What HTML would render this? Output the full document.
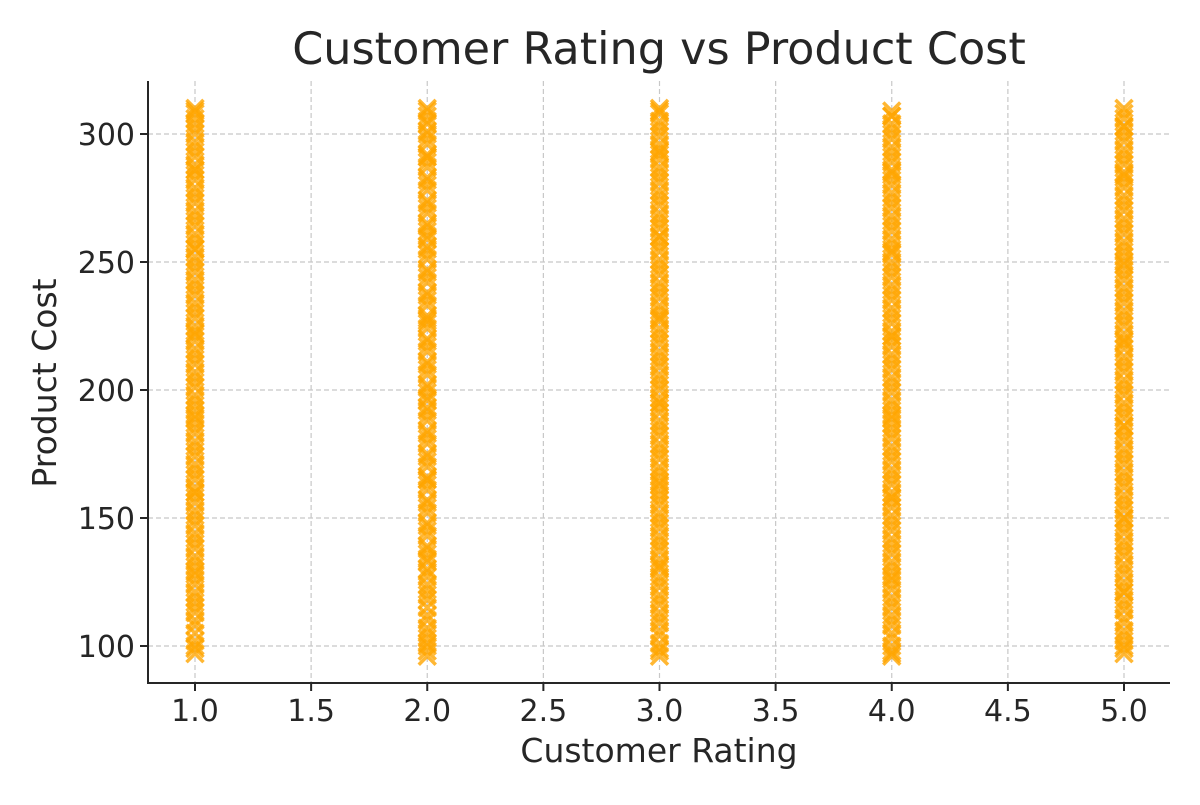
<!DOCTYPE html>
<html><head><meta charset="utf-8"><style>
body{margin:0;background:#fff;font-family:"Liberation Sans","DejaVu Sans",sans-serif}
svg text{font-family:"DejaVu Sans","Liberation Sans",sans-serif;fill:#262626}
</style></head><body>
<svg id="chart" width="1200" height="800" xmlns="http://www.w3.org/2000/svg">
<text x="659" y="64" font-size="44.5" text-anchor="middle">Customer Rating vs Product Cost</text>
<g id="grid"></g>
<g id="points"></g>
<g id="axes"></g>
<text x="659" y="762" font-size="33" text-anchor="middle">Customer Rating</text>
<text transform="translate(56,383) rotate(-90)" font-size="33" text-anchor="middle">Product Cost</text>
</svg>
<script>
const xTicks=[1.0,1.5,2.0,2.5,3.0,3.5,4.0,4.5,5.0];
const xTickLabels=["1.0","1.5","2.0","2.5","3.0","3.5","4.0","4.5","5.0"];
const yTicks=[100,150,200,250,300];
const yTickLabels=["100","150","200","250","300"];
const ratings=[1,2,3,4,5];
const cost1=[97,102,108,113,117,121,126,131,135,140,144,149,153,158,162,167,171,176,180,185,189,194,198,203,207,212,216,221,225,230,234,239,243,248,252,257,261,266,270,275,279,284,288,293,297,302,306,310,99,128,160,190,222,255,286,308,100,105,110,115,119,124,129,133,138,142,147,151,156,160,165,169,174,178,183,187,192,196,201,205,210,214,219,223,228,232,237,241,246,250,255,259,264,268,273,277,282,286,291,295,300,304,309];
const cost2=[98,103,107,112,118,122,127,130,136,139,145,148,154,157,163,166,172,175,181,184,190,193,199,202,208,211,217,220,226,229,235,238,244,247,253,256,262,265,271,274,280,283,289,292,298,301,307,310,100,133,165,196,227,259,291,305,96,101,105,110,115,120,124,129,134,138,143,147,152,156,161,165,170,174,179,183,188,192,197,201,206,210,215,219,224,228,233,237,242,246,251,255,260,264,269,273,278,282,287,291,296,300,304,309];
const cost3=[96,101,106,111,116,120,125,130,134,139,143,148,152,157,161,166,170,175,179,184,188,193,197,202,206,211,215,220,224,229,233,238,242,247,251,256,260,265,269,274,278,283,287,292,296,301,305,310,98,131,163,195,228,260,293,309,99,104,109,113,118,123,127,132,137,141,146,150,155,159,164,168,173,177,182,186,191,195,200,204,209,213,218,222,227,231,236,240,245,249,254,258,263,267,272,276,281,285,290,294,299,303,308];
const cost4=[96,100,105,110,115,119,124,129,133,138,142,147,151,156,160,165,169,174,178,183,187,192,196,201,205,210,214,219,223,228,232,237,241,246,250,255,259,264,268,273,277,282,286,291,295,300,304,309,98,126,158,189,221,254,285,307,97,103,108,112,117,122,127,131,136,140,145,149,154,158,163,167,172,176,181,185,190,194,199,203,208,212,217,221,226,230,235,239,244,248,253,257,262,266,271,275,280,284,289,293,298,302,307];
const cost5=[97,102,106,111,116,121,125,130,135,139,144,148,153,157,162,166,171,175,180,184,189,193,198,202,207,211,216,220,225,229,234,238,243,247,252,256,261,265,270,274,279,283,288,292,297,301,306,310,99,121,150,186,219,250,284,303,100,104,109,114,118,123,128,132,137,141,146,150,155,159,164,168,173,177,182,186,191,195,200,204,209,213,218,222,227,231,236,240,245,249,254,258,263,267,272,276,281,285,290,294,299,303,308];
const costs=[cost1,cost2,cost3,cost4,cost5];

const NS="http://www.w3.org/2000/svg";
const L=148,R=1170,T=81,B=683;
const xs=v=>195+(v-1)*(1124-195)/4;
const ys=v=>646-(v-100)*(646-134)/200;
function mk(tag,attrs,parent){const e=document.createElementNS(NS,tag);for(const k in attrs)e.setAttribute(k,attrs[k]);parent.appendChild(e);return e;}
const grid=document.getElementById('grid'),pts=document.getElementById('points'),axes=document.getElementById('axes');
xTicks.forEach((t,i)=>{
  const g=mk('line',{x1:xs(t),x2:xs(t),y1:T,y2:B,stroke:'#c8c8c8','stroke-width':1.2,'stroke-dasharray':'5,3'},grid);
  
  
  const tk=mk('line',{x1:xs(t),x2:xs(t),y1:B,y2:B+8,stroke:'#262626','stroke-width':2},axes);
  
  
  const tx=mk('text',{x:xs(t),y:B+38,'font-size':30,'text-anchor':'middle'},axes);
  tx.textContent=xTickLabels[i];
  
  
});
yTicks.forEach((t,i)=>{
  const g=mk('line',{x1:L,x2:R,y1:ys(t),y2:ys(t),stroke:'#c8c8c8','stroke-width':1.2,'stroke-dasharray':'5,3'},grid);
  
  
  const tk=mk('line',{x1:L-8,x2:L,y1:ys(t),y2:ys(t),stroke:'#262626','stroke-width':2},axes);
  
  
  const tx=mk('text',{x:L-13,y:ys(t)+11,'font-size':30,'text-anchor':'end'},axes);
  tx.textContent=yTickLabels[i];
  
  
});
const sp=mk('path',{d:`M${L},${T}V${B}H${R}`,fill:'none',stroke:'#262626','stroke-width':2},axes);


const s=8.5;
ratings.forEach((r,ri)=>{
  costs[ri].forEach(c=>{
    const x=xs(r),y=ys(c);
    const p=mk('path',{d:`M${x-s},${y-s}L${x+s},${y+s}M${x-s},${y+s}L${x+s},${y-s}`,stroke:'#ffa500','stroke-width':3.5,'stroke-opacity':0.8,fill:'none'},pts);
    
    
  });
});
</script>
</body></html>
